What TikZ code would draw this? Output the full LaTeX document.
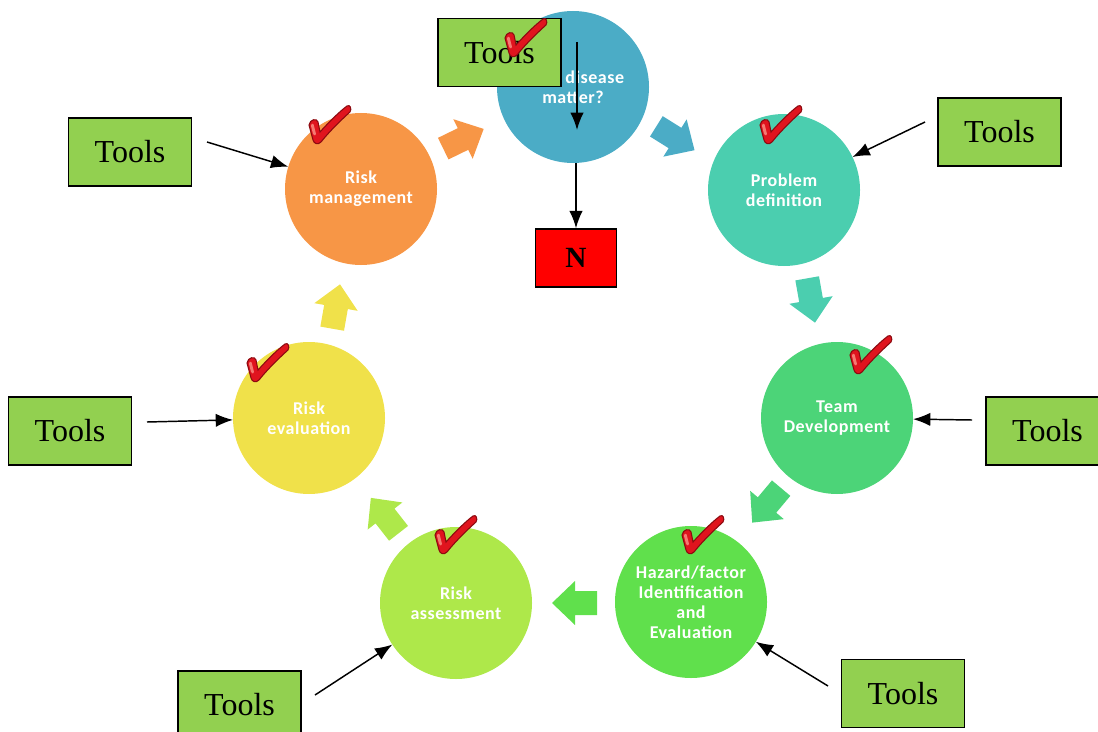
\documentclass[tikz,border=0pt]{standalone}
\usepackage{fontspec}
\setmainfont{Liberation Serif}
\newfontfamily\stagefont[LetterSpace=3]{Carlito}
\usetikzlibrary{arrows.meta}

\definecolor{topc}{HTML}{4BACC6}
\definecolor{rmc}{HTML}{F79646}
\definecolor{pdc}{HTML}{4BCEAF}
\definecolor{tdc}{HTML}{4CD478}
\definecolor{hzc}{HTML}{60E04C}
\definecolor{rac}{HTML}{AEE84A}
\definecolor{rec}{HTML}{F0E14A}
\definecolor{toolgreen}{HTML}{92D050}
\definecolor{tickred}{HTML}{E0141E}
\definecolor{tickdark}{HTML}{8C0A10}
\definecolor{tickhl}{HTML}{F47A72}

\begin{document}
\begin{tikzpicture}[x=0.75pt,y=-0.75pt,
    stage/.style={circle, minimum size=114pt, inner sep=0pt, outer sep=0pt,
      text=white, align=center, font=\stagefont\bfseries\fontsize{13.5}{15}\selectfont},
    tools/.style={draw=black, line width=1.1pt, fill=toolgreen, minimum width=92pt,
      minimum height=51pt, font=\fontsize{24}{28}\selectfont},
    toolarrow/.style={-{Latex[length=13pt,width=10pt]}, line width=1.1pt},
    flowarrow/.pic={\fill[#1] (-22,-12) -- (0,-12) -- (0,-22) -- (23,0) -- (0,22) -- (0,12) -- (-22,12) -- cycle;},
    checkmark/.pic={
      \fill[tickred, draw=tickdark, line width=0.8pt] (0,5) .. controls (1,-1) and (8,-2) .. (9,2) -- (11,12)
        .. controls (20,2) and (30,-8) .. (38,-14) .. controls (41,-16) and (43,-11) .. (41,-8)
        .. controls (31,1) and (19,13) .. (12,22) .. controls (9,25) and (5,24) .. (4,20) -- cycle;
      \fill[tickhl] (2,6) .. controls (2,3) and (5,3) .. (5,6) -- (7,14) .. controls (7,16) and (5,16) .. (4,14) -- cycle;}]

    \useasboundingbox (0,0) rectangle (1098,731);

    % stages of the cycle
    \node[stage, fill=topc] (dd) at (573,87) {Does disease\\matter?};
    \node[stage, fill=pdc] (pd) at (784,190) {Problem\\definition};
    \node[stage, fill=tdc] (td) at (837,418) {Team\\Development};
    \node[stage, fill=hzc] (hz) at (691,602) {Hazard/factor\\Identification\\and\\Evaluation};
    \node[stage, fill=rac] (ra) at (456,603) {Risk\\assessment};
    \node[stage, fill=rec] (re) at (309,418) {Risk\\evaluation};
    \node[stage, fill=rmc] (rm) at (361,189) {Risk\\management};

    % block arrows between stages
    \pic[rotate=26] at (463,139) {flowarrow=rmc};
    \pic[rotate=-32] at (675,138) {flowarrow=topc};
    \pic[rotate=-80] at (811,300) {flowarrow=pdc};
    \pic[rotate=-130] at (767,505) {flowarrow=tdc};
    \pic[rotate=180] at (575,603) {flowarrow=hzc};
    \pic[rotate=128] at (385,516) {flowarrow=rac};
    \pic[rotate=80] at (336,307) {flowarrow=rec};

    % tools boxes
    \node[tools] (toolsdd) at (499.5,52.5) {Tools};
    \node[tools] (toolsrm) at (130,152) {Tools};
    \node[tools] (toolspd) at (999.5,132) {Tools};
    \node[tools] (toolsre) at (70,431) {Tools};
    \node[tools] (toolstd) at (1047.5,431) {Tools};
    \node[tools] (toolsra) at (239.5,705) {Tools};
    \node[tools] (toolshz) at (903,693.5) {Tools};

    % no disease
    \node[draw, line width=1.1pt, fill=red, minimum width=60.75pt, minimum height=43.5pt,
      font=\bfseries\fontsize{22}{26}\selectfont] (nbox) at (576,258) {N};

    % ticks
    \pic at (505,33) {checkmark};
    \pic at (309,120) {checkmark};
    \pic at (760,120) {checkmark};
    \pic at (850,350) {checkmark};
    \pic at (682,530) {checkmark};
    \pic at (435,530) {checkmark};
    \pic at (247,358) {checkmark};

    % tools pointing at the stages
    \coordinate (qa) at (577,42);
    \coordinate (qb) at (577,130);
    \draw[toolarrow] (qa) -- (qb);
    \draw[toolarrow] (dd.south -| nbox) -- (nbox.north);

    \coordinate (ta) at (207,142);
    \draw[toolarrow] (ta) -- (rm);
    \coordinate (tb) at (925,122);
    \draw[toolarrow] (tb) -- (pd);
    \coordinate (tc) at (147,422);
    \draw[toolarrow] (tc) -- (re);
    \coordinate (tg) at (972,420);
    \draw[toolarrow] (tg) -- (td);
    \coordinate (te) at (315,695);
    \draw[toolarrow] (te) -- (ra);
    \coordinate (tf) at (828,686);
    \draw[toolarrow] (tf) -- (hz);

\end{tikzpicture}
\end{document}
